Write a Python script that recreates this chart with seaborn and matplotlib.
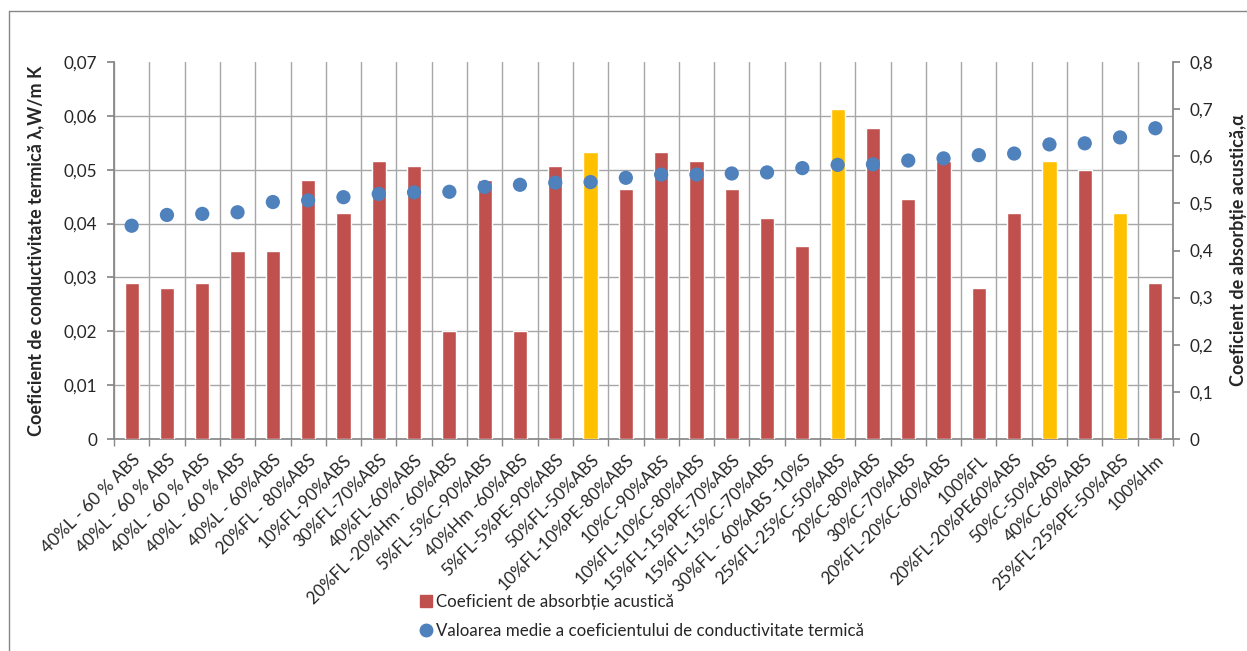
import numpy as np
import pandas as pd
import matplotlib
matplotlib.use("Agg")
import matplotlib.pyplot as plt
from matplotlib.lines import Line2D
from matplotlib.ticker import FuncFormatter
import seaborn as sns

# Material mixtures
categories = [
    "40%L - 60 % ABS", "40%L - 60 % ABS", "40%L - 60 % ABS", "40%L - 60 % ABS",
    "40%L - 60%ABS", "20%FL - 80%ABS", "10%FL-90%ABS", "30%FL-70%ABS",
    "40%FL-60%ABS", "20%FL -20%Hm - 60%ABS", "5%FL-5%C-90%ABS", "40%Hm -60%ABS",
    "5%FL-5%PE-90%ABS", "50%FL-50%ABS", "10%FL-10%PE-80%ABS", "10%C-90%ABS",
    "10%FL-10%C-80%ABS", "15%FL-15%PE-70%ABS", "15%FL-15%C-70%ABS",
    "30%FL - 60%ABS -10%S", "25%FL-25%C-50%ABS", "20%C-80%ABS", "30%C-70%ABS",
    "20%FL-20%C-60%ABS", "100%FL", "20%FL-20%PE60%ABS", "50%C-50%ABS",
    "40%C-60%ABS", "25%FL-25%PE-50%ABS", "100%Hm",
]

# Sound absorption coefficient (right axis)
absorption = [
    0.33, 0.32, 0.33, 0.40, 0.40, 0.55, 0.48, 0.59, 0.58, 0.23,
    0.55, 0.23, 0.58, 0.61, 0.53, 0.61, 0.59, 0.53, 0.47, 0.41,
    0.70, 0.66, 0.51, 0.59, 0.32, 0.48, 0.59, 0.57, 0.48, 0.33,
]

# Mean thermal conductivity, W/m K (left axis)
conductivity = [
    0.0396, 0.0416, 0.0418, 0.0421, 0.0440, 0.0443, 0.0449, 0.0455, 0.0458, 0.0459,
    0.0468, 0.0472, 0.0476, 0.0477, 0.0485, 0.0491, 0.0491, 0.0493, 0.0495, 0.0503,
    0.0509, 0.0510, 0.0517, 0.0521, 0.0527, 0.0530, 0.0547, 0.0549, 0.0560, 0.0577,
]

# Mixtures shown in highlight colour
highlighted = [13, 20, 26, 28]

left_ticks = [0, 0.01, 0.02, 0.03, 0.04, 0.05, 0.06, 0.07]
right_ticks = [0, 0.1, 0.2, 0.3, 0.4, 0.5, 0.6, 0.7, 0.8]

RED = "#C0504D"
GOLD = "#FFC000"
BLUE = "#4F81BD"
GRID = "#A6A6A6"
AXIS = "#868686"
TEXT = "#262626"
TICK_FS = 12.3

sns.set_theme(style="white")
plt.rcParams["font.family"] = ["Lato", "DejaVu Sans"]
plt.rcParams["text.color"] = TEXT

df = pd.DataFrame({
    "pos": np.arange(len(categories)),
    "absorption": absorption,
    "conductivity": conductivity,
})
colors = [GOLD if i in highlighted else RED for i in range(len(categories))]
n = len(categories)

W, H = 1247, 651
fig = plt.figure(figsize=(W / 100, H / 100), dpi=100)
x0, x1, y0, y1 = 114, 1173, 62, 439
ax = fig.add_axes([x0 / W, 1 - y1 / H, (x1 - x0) / W, (y1 - y0) / H])
ax2 = ax.twinx()

# Bars: sound absorption on the right-hand scale
sns.barplot(data=df, x="pos", y="absorption", hue="pos", palette=colors,
            legend=False, width=0.4, saturation=1, ax=ax, zorder=3)

# Dots: thermal conductivity on the left-hand scale (drawn above the bars)
sns.scatterplot(data=df, x="pos", y="conductivity", color=BLUE, s=105,
                edgecolor="none", ax=ax2, zorder=4, legend=False)

for a in (ax, ax2):
    a.set_xlim(-0.5, n - 0.5)
    a.set_xlabel("")

# --- bar axis (right side) ---
ax.set_ylim(0, 0.8)
ax.yaxis.tick_right()
ax.yaxis.set_label_position("right")
ax.set_yticks(right_ticks)
ax.yaxis.set_major_formatter(FuncFormatter(lambda v, p: f"{v:g}".replace(".", ",")))
ax.tick_params(axis="y", which="major", left=False, right=True, length=5,
               color=AXIS, labelsize=TICK_FS, labelcolor=TEXT, pad=7)

# Horizontal gridlines follow the left-hand scale
ax.set_yticks([t * 0.8 / 0.07 for t in left_ticks], minor=True)
ax.tick_params(axis="y", which="minor", length=0, right=False, left=False)
ax.grid(True, which="minor", axis="y", color=GRID, linewidth=1, zorder=0)

# Vertical gridlines at category boundaries
ax.set_xticks(np.arange(n))
ax.set_xticklabels(categories, rotation=45, ha="right", rotation_mode="anchor",
                   fontsize=TICK_FS, color=TEXT)
ax.set_xticks(np.arange(n + 1) - 0.5, minor=True)
ax.tick_params(axis="x", which="major", length=0, pad=9)
ax.tick_params(axis="x", which="minor", length=5, color=AXIS, width=1, bottom=True)
ax.grid(True, which="minor", axis="x", color=GRID, linewidth=1, zorder=0)
ax.set_axisbelow(True)

ax.set_ylabel("Coeficient de absorbție acustică,α", fontsize=13, fontweight="bold",
              color=TEXT, labelpad=12)
for side in ["top", "left"]:
    ax.spines[side].set_visible(False)
ax.spines["right"].set_color(AXIS)
ax.spines["bottom"].set_color(AXIS)

# --- dot axis (left side) ---
ax2.set_ylim(0, 0.07)
ax2.yaxis.tick_left()
ax2.yaxis.set_label_position("left")
ax2.set_yticks(left_ticks)
ax2.yaxis.set_major_formatter(
    FuncFormatter(lambda v, p: "0" if v == 0 else f"{v:.2f}".replace(".", ",")))
ax2.tick_params(axis="y", left=True, right=False, labelleft=True, labelright=False,
                length=5, color=AXIS, labelsize=TICK_FS, labelcolor=TEXT, pad=7)
ax2.set_ylabel("Coeficient de conductivitate termică λ,W/m K", fontsize=13,
               fontweight="bold", color=TEXT, labelpad=14)
for side in ["top", "right", "bottom"]:
    ax2.spines[side].set_visible(False)
ax2.spines["left"].set_color(AXIS)

# Legend below the plot
handles = [
    Line2D([], [], marker="s", linestyle="none", color=RED, markersize=8),
    Line2D([], [], marker="o", linestyle="none", color=BLUE, markersize=9),
]
labels = ["Coeficient de absorbție acustică",
          "Valoarea medie a coeficientului de conductivitate termică"]
fig.legend(handles, labels, loc="upper left", bbox_to_anchor=(418 / W, 1 - 594 / H),
           frameon=False, fontsize=12.2, handletextpad=0.15, handlelength=0.9,
           labelspacing=0.75, borderaxespad=0, borderpad=0)

# Chart frame (top and left edges)
fig.add_artist(Line2D([9 / W, 9 / W], [0, 1 - 11 / H], transform=fig.transFigure,
                      color=AXIS, linewidth=1))
fig.add_artist(Line2D([9 / W, 1], [1 - 11 / H, 1 - 11 / H], transform=fig.transFigure,
                      color=AXIS, linewidth=1))

fig.savefig("out.png", dpi=100, facecolor="white")
